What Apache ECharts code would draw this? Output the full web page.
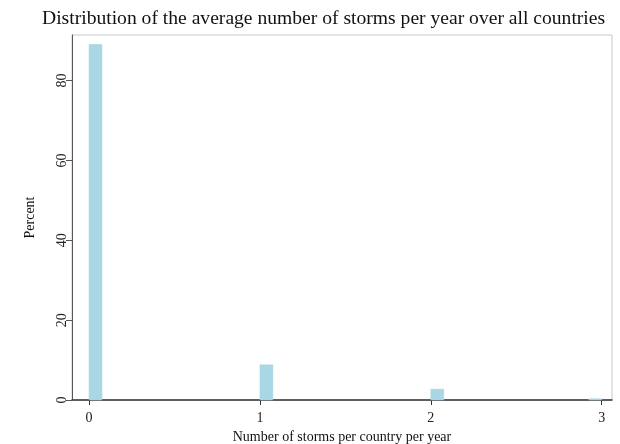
<!DOCTYPE html>
<html>
<head>
<meta charset="utf-8">
<script src="https://cdn.jsdelivr.net/npm/echarts@6/dist/echarts.min.js"></script>
<style>
  html, body { margin: 0; padding: 0; background: #fff; }
  #chart { width: 620px; height: 444px; }
</style>
</head>
<body>
<div id="chart"></div>
<script>
// Histogram bins: left edge and right edge (storms per country per year)
const binStart = [0, 1, 2, 2.925];
const binEnd = [0.075, 1.075, 2.075, 3.0];
// Share of countries in each bin (percent)
const percent = [89.0, 8.8, 2.7, 0.3];
// Axis ticks
const xTicks = [0, 1, 2, 3];
const yTicks = [0, 20, 40, 60, 80];

const chart = echarts.init(document.getElementById('chart'), null, { renderer: 'canvas' });
const serif = '"Liberation Serif", "DejaVu Serif", serif';

const bins = binStart.map((s, i) => [s, binEnd[i], percent[i]]);

chart.setOption({
  animation: false,
  backgroundColor: '#ffffff',
  title: {
    text: 'Distribution of the average number of storms per year over all countries',
    left: 37,
    top: 4,
    textStyle: { fontFamily: serif, fontSize: 19.6, fontWeight: 'normal', color: '#111' }
  },
  grid: {
    left: 72, right: 8, top: 35, bottom: 44,
    outerBoundsMode: 'none',
    containLabel: false,
    show: true, borderColor: '#c8c8c8', borderWidth: 1, backgroundColor: '#fff'
  },
  xAxis: {
    type: 'value',
    min: -0.1, max: 3.06,
    interval: 1,
    name: 'Number of storms per country per year',
    nameLocation: 'middle',
    nameGap: 28,
    nameTextStyle: { fontFamily: serif, fontSize: 14, color: '#111' },
    axisLine: { show: true, onZero: false, lineStyle: { color: '#333', width: 1.5 } },
    axisTick: { show: true, length: 5, lineStyle: { color: '#333' }, customValues: xTicks },
    axisLabel: {
      fontFamily: serif, fontSize: 14, color: '#222', margin: 11,
      customValues: xTicks, formatter: v => String(v)
    },
    splitLine: { show: false }
  },
  yAxis: {
    type: 'value',
    min: 0, max: 91.4,
    name: 'Percent',
    nameLocation: 'middle',
    nameGap: 35,
    nameRotate: 90,
    nameTextStyle: { fontFamily: serif, fontSize: 14, color: '#111' },
    axisLine: { show: true, onZero: false, lineStyle: { color: '#555', width: 1 } },
    axisTick: { show: true, length: 6, lineStyle: { color: '#555' }, customValues: yTicks },
    axisLabel: {
      fontFamily: serif, fontSize: 14, color: '#222', rotate: 90, margin: 3,
      customValues: yTicks
    },
    splitLine: { show: false }
  },
  series: [{
    type: 'custom',
    data: bins,
    renderItem: function (params, api) {
      const p0 = api.coord([api.value(0), 0]);
      const p1 = api.coord([api.value(1), api.value(2)]);
      return {
        type: 'rect',
        shape: { x: p0[0], y: p1[1], width: p1[0] - p0[0], height: p0[1] - p1[1] },
        style: { fill: '#a9d7e6', stroke: '#9ccfe0', lineWidth: 0.5 }
      };
    },
    encode: { x: [0, 1], y: 2 }
  }]
});
</script>
</body>
</html>
